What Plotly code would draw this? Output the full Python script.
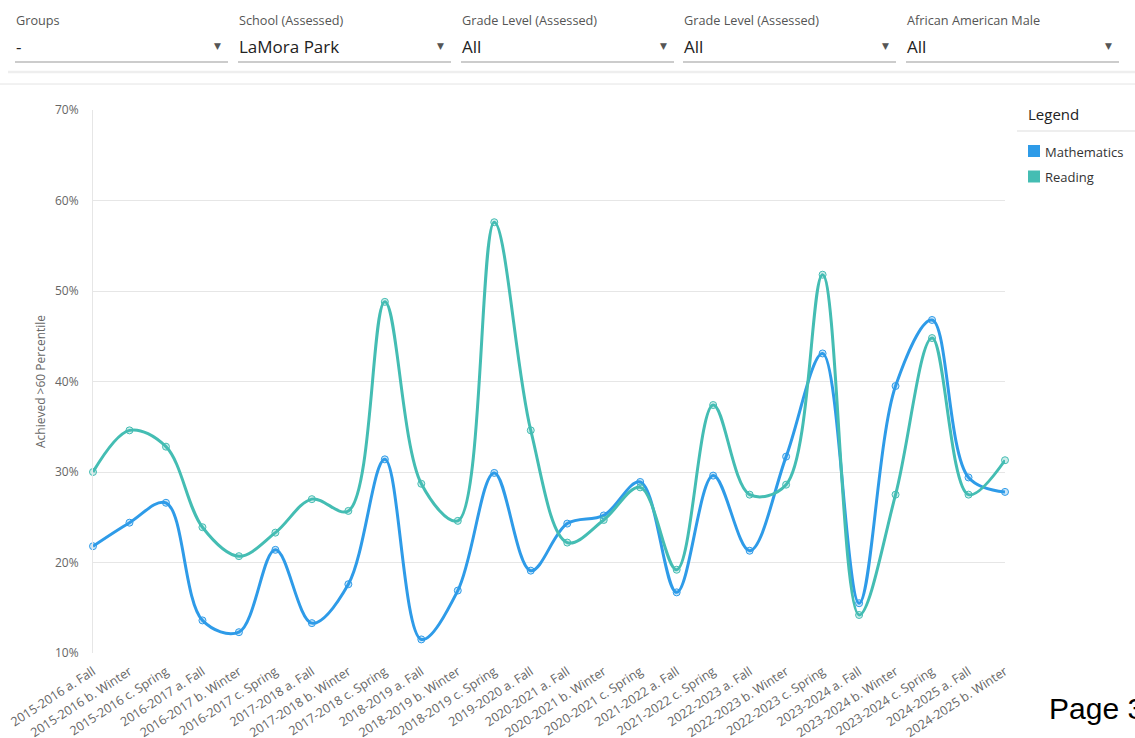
import plotly.graph_objects as go

categories = [
    "2015-2016 a. Fall", "2015-2016 b. Winter", "2015-2016 c. Spring",
    "2016-2017 a. Fall", "2016-2017 b. Winter", "2016-2017 c. Spring",
    "2017-2018 a. Fall", "2017-2018 b. Winter", "2017-2018 c. Spring",
    "2018-2019 a. Fall", "2018-2019 b. Winter", "2018-2019 c. Spring",
    "2019-2020 a. Fall",
    "2020-2021 a. Fall", "2020-2021 b. Winter", "2020-2021 c. Spring",
    "2021-2022 a. Fall", "2021-2022 c. Spring",
    "2022-2023 a. Fall", "2022-2023 b. Winter", "2022-2023 c. Spring",
    "2023-2024 a. Fall", "2023-2024 b. Winter", "2023-2024 c. Spring",
    "2024-2025 a. Fall", "2024-2025 b. Winter",
]

mathematics = [21.8, 24.4, 26.6, 13.6, 12.3, 21.4, 13.3, 17.6, 31.4, 11.5,
               16.9, 29.9, 19.1, 24.3, 25.2, 28.9, 16.7, 29.6, 21.3, 31.7,
               43.1, 15.5, 39.5, 46.8, 29.4, 27.8]
reading = [30.0, 34.6, 32.8, 23.9, 20.7, 23.3, 27.0, 25.7, 48.8, 28.7,
           24.6, 57.6, 34.6, 22.2, 24.7, 28.3, 19.2, 37.4, 27.5, 28.6,
           51.8, 14.2, 27.5, 44.8, 27.5, 31.3]

filter_labels = ["Groups", "School (Assessed)", "Grade Level (Assessed)",
                 "Grade Level (Assessed)", "African American Male"]
filter_values = ["-", "LaMora Park", "All", "All", "All"]

series_names = ["Mathematics", "Reading"]
colors = ["#2E9BE8", "#44BDB3"]
fills = ["rgba(46,155,232,0.25)", "rgba(68,189,179,0.25)"]

W, H = 1135, 738
L, R, T, B = 93, 1005, 110, 653


def px(x):
    return (x - L) / (R - L)


def py(y):
    return (B - y) / (B - T)


fig = go.Figure()
for name, vals, c, f in zip(series_names, [mathematics, reading], colors, fills):
    fig.add_trace(go.Scatter(
        x=categories, y=[v / 100 for v in vals], name=name,
        mode="lines+markers", line=dict(color=c, width=3, shape="spline", smoothing=1.0),
        marker=dict(size=7, color=f, line=dict(color=c, width=1)),
        cliponaxis=False, showlegend=False,
    ))

annotations = []
shapes = []
xs = [15, 238, 461, 683, 906]
for x0, lab, val in zip(xs, filter_labels, filter_values):
    annotations.append(dict(x=px(x0 - 1), y=py(20), xref="paper", yref="paper", text=lab,
                            showarrow=False, xanchor="left", yanchor="middle",
                            font=dict(family="Open Sans", size=12.7, color="#555")))
    annotations.append(dict(x=px(x0 - 1), y=py(46), xref="paper", yref="paper", text=val,
                            showarrow=False, xanchor="left", yanchor="middle",
                            font=dict(family="Open Sans", size=17, color="#222")))
    annotations.append(dict(x=px(x0 + 202), y=py(46), xref="paper", yref="paper", text="▼",
                            showarrow=False, xanchor="center", yanchor="middle",
                            font=dict(family="DejaVu Sans", size=9, color="#555")))
    shapes.append(dict(type="line", xref="paper", yref="paper", x0=px(x0), x1=px(x0 + 213),
                       y0=py(62), y1=py(62), line=dict(color="#9a9a9a", width=1.2)))

shapes.append(dict(type="line", xref="paper", yref="paper", x0=px(8), x1=px(1135),
                   y0=py(72), y1=py(72), line=dict(color="#eeeeee", width=2.5)))
shapes.append(dict(type="line", xref="paper", yref="paper", x0=px(0), x1=px(1135),
                   y0=py(84), y1=py(84), line=dict(color="#e4e4e4", width=1)))
# legend
shapes.append(dict(type="line", xref="paper", yref="paper", x0=px(1017), x1=px(1135),
                   y0=py(131), y1=py(131), line=dict(color="#dddddd", width=1)))
annotations.append(dict(x=px(1026), y=py(114), xref="paper", yref="paper", text="Legend",
                        showarrow=False, xanchor="left", yanchor="middle",
                        font=dict(family="Open Sans", size=15, color="#222")))
for i, (name, c) in enumerate(zip(series_names, colors)):
    yc = 151 + 25.5 * i
    shapes.append(dict(type="rect", xref="paper", yref="paper", x0=px(1028), x1=px(1040),
                       y0=py(yc - 6), y1=py(yc + 6), line=dict(width=0), fillcolor=c))
    annotations.append(dict(x=px(1043), y=py(yc + 1), xref="paper", yref="paper", text=name,
                            showarrow=False, xanchor="left", yanchor="middle",
                            font=dict(family="Open Sans", size=13, color="#333")))

annotations.append(dict(x=px(1047), y=py(708), xref="paper", yref="paper", text="Page 3",
                        showarrow=False, xanchor="left", yanchor="middle",
                        font=dict(family="Liberation Sans", size=30, color="#000")))

fig.update_layout(
    width=W, height=H,
    margin=dict(l=L, r=W - R, t=T, b=H - B, pad=0, autoexpand=False),
    paper_bgcolor="white", plot_bgcolor="white",
    font=dict(family="Open Sans", size=12, color="#666"),
    showlegend=False,
    annotations=annotations, shapes=shapes,
    xaxis=dict(type="category", range=[0, len(categories) - 1], tickangle=-33,
               showgrid=False, showline=False, zeroline=False, ticks="",
               automargin=False, ticklabelstandoff=8,
               tickfont=dict(family="Open Sans", size=12.5, color="#666")),
    yaxis=dict(range=[0.10, 0.70], dtick=0.10, tickformat=".0%", showgrid=True,
               gridcolor="#e6e6e6", gridwidth=1, zeroline=False, showline=True,
               linecolor="#e6e6e6", linewidth=1, ticks="", ticklen=0,
               automargin=False, ticklabelstandoff=11,
               title=dict(text="Achieved >60 Percentile", standoff=6,
                          font=dict(family="Open Sans", size=12, color="#666")),
               tickfont=dict(family="Open Sans", size=12, color="#666")),
)

fig.write_html("out.html", config={"displayModeBar": False},
               post_script="document.body.style.margin='0';document.body.style.overflow='hidden';")
